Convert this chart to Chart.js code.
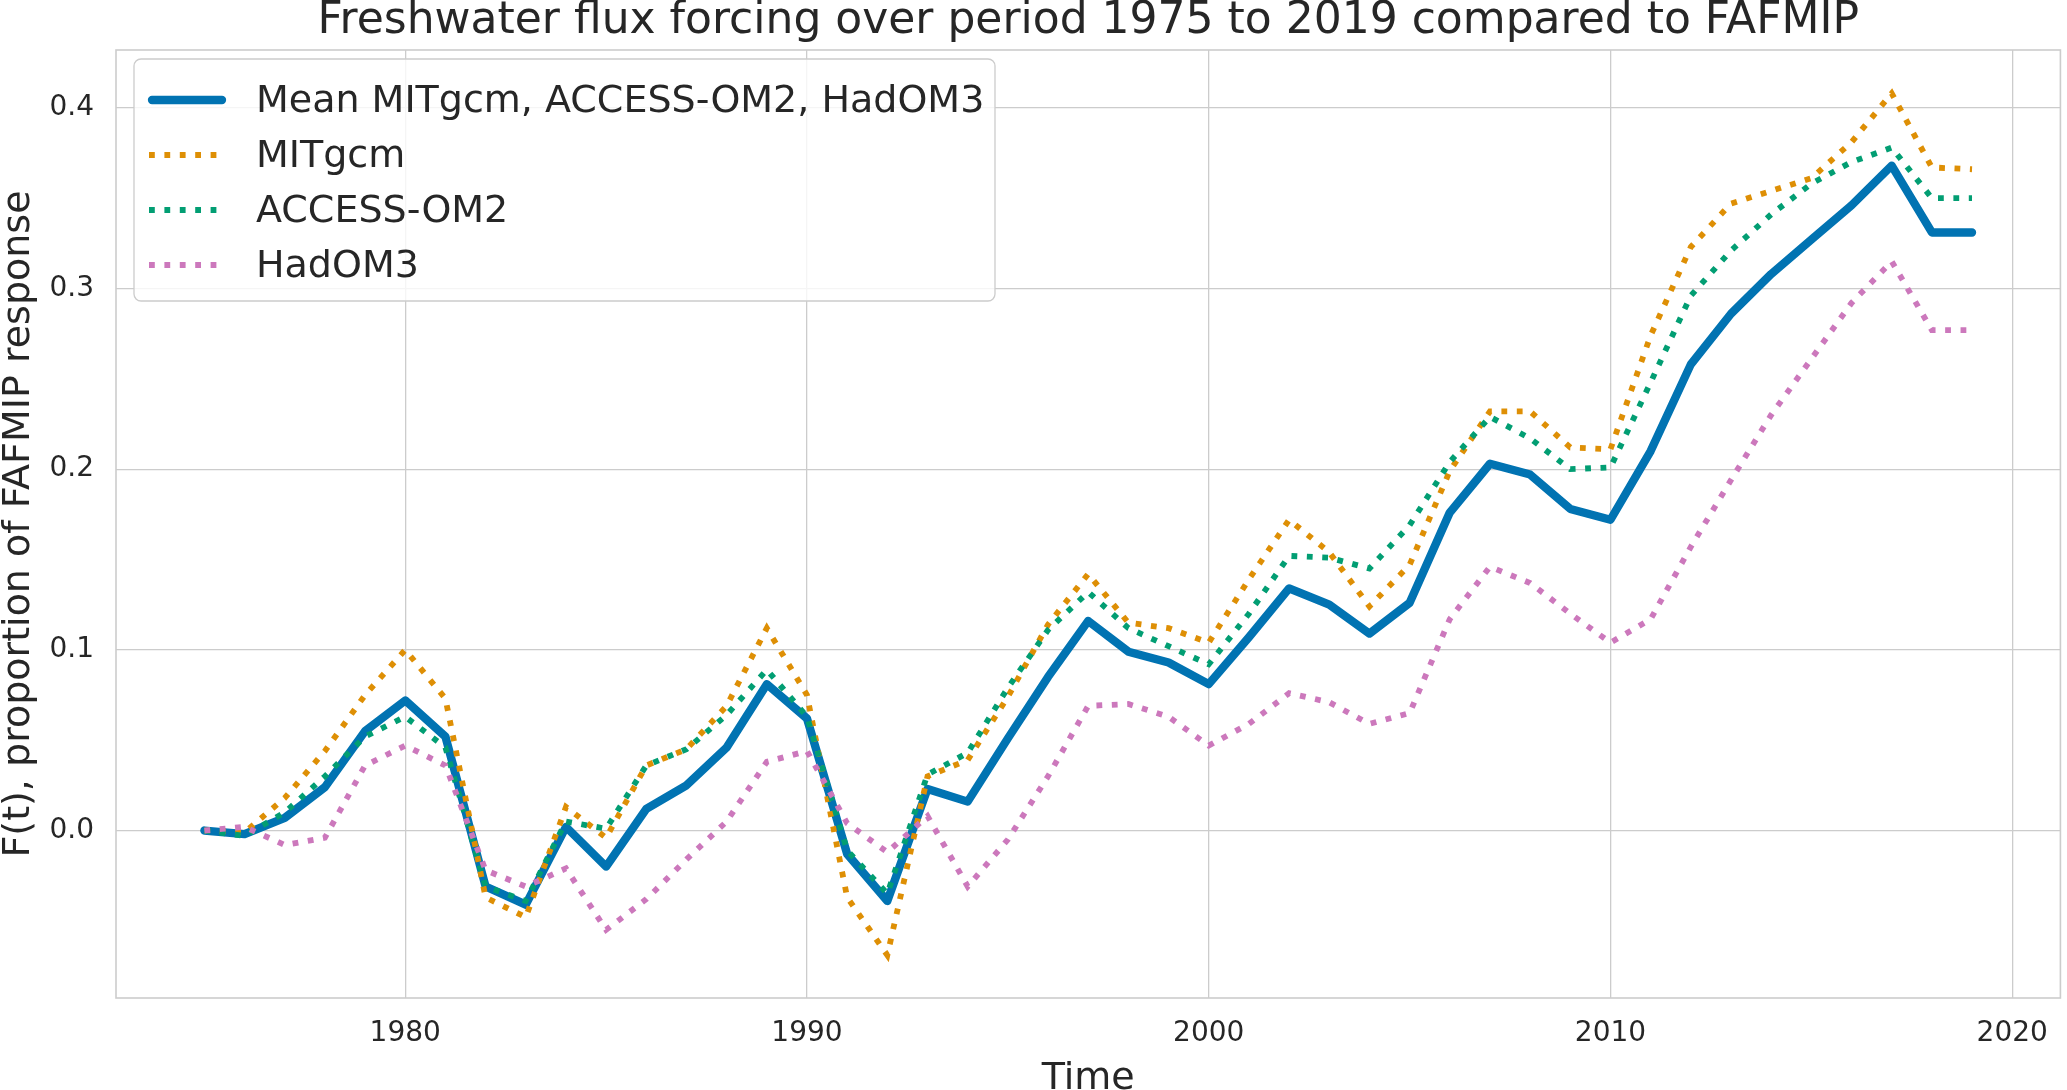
<!DOCTYPE html>
<html lang="en">
<head>
    <meta charset="UTF-8">
    <title>Freshwater flux forcing</title>
    <script src="https://cdn.jsdelivr.net/npm/chart.js"></script>
    <style>
        body {
            margin: 0;
            background-color: #ffffff;
        }
        canvas {
            display: block;
        }
    </style>
</head>
<body>
    <canvas id="fluxChart" width="2067" height="1090"></canvas>

    <script>
        const years = [1975, 1976, 1977, 1978, 1979, 1980, 1981, 1982, 1983, 1984,
                       1985, 1986, 1987, 1988, 1989, 1990, 1991, 1992, 1993, 1994,
                       1995, 1996, 1997, 1998, 1999, 2000, 2001, 2002, 2003, 2004,
                       2005, 2006, 2007, 2008, 2009, 2010, 2011, 2012, 2013, 2014,
                       2015, 2016, 2017, 2018, 2019];

        const meanVals = [0.000, -0.002, 0.007, 0.024, 0.055, 0.072, 0.052, -0.031, -0.041, 0.002,
                          -0.020, 0.012, 0.025, 0.046, 0.081, 0.062, -0.013, -0.039, 0.023, 0.016,
                          0.051, 0.085, 0.116, 0.099, 0.093, 0.081, 0.107, 0.134, 0.125, 0.109,
                          0.126, 0.176, 0.203, 0.197, 0.178, 0.172, 0.210, 0.258, 0.286, 0.308,
                          0.327, 0.346, 0.368, 0.331, 0.331];

        const mitgcmVals = [0.000, -0.001, 0.018, 0.044, 0.075, 0.100, 0.073, -0.037, -0.048, 0.013,
                            -0.004, 0.036, 0.045, 0.069, 0.112, 0.075, -0.037, -0.069, 0.030, 0.039,
                            0.074, 0.114, 0.142, 0.115, 0.112, 0.104, 0.139, 0.172, 0.154, 0.124,
                            0.147, 0.199, 0.232, 0.232, 0.212, 0.211, 0.274, 0.323, 0.347, 0.354,
                            0.361, 0.381, 0.408, 0.367, 0.366];

        const accessVals = [0.000, -0.003, 0.010, 0.030, 0.052, 0.063, 0.046, -0.031, -0.039, 0.005,
                            0.001, 0.036, 0.045, 0.064, 0.089, 0.063, -0.011, -0.035, 0.031, 0.043,
                            0.079, 0.111, 0.132, 0.112, 0.102, 0.092, 0.120, 0.152, 0.151, 0.145,
                            0.169, 0.204, 0.229, 0.217, 0.200, 0.201, 0.248, 0.296, 0.321, 0.341,
                            0.358, 0.370, 0.378, 0.350, 0.350];

        const hadVals = [0.000, 0.002, -0.008, -0.004, 0.036, 0.047, 0.036, -0.022, -0.031, -0.021,
                         -0.055, -0.038, -0.016, 0.005, 0.038, 0.044, 0.004, -0.012, 0.008, -0.031,
                         -0.005, 0.030, 0.069, 0.070, 0.063, 0.047, 0.059, 0.076, 0.071, 0.059,
                         0.065, 0.117, 0.146, 0.137, 0.120, 0.104, 0.117, 0.157, 0.194, 0.230,
                         0.261, 0.292, 0.315, 0.277, 0.277];

        const seriesNames = ['Mean MITgcm, ACCESS-OM2, HadOM3', 'MITgcm', 'ACCESS-OM2', 'HadOM3'];
        const xTicks = [1980, 1990, 2000, 2010, 2020];
        const yTicks = [0.0, 0.1, 0.2, 0.3, 0.4];

        const textColor = '#262626';
        const gridColor = '#cccccc';

        function points(vals) {
            return years.map((yr, i) => ({x: yr, y: vals[i]}));
        }

        // matplotlib-style legend with a rounded frame
        const boxLegend = {
            id: 'boxLegend',
            afterDatasetsDraw(chart) {
                const ctx = chart.ctx;
                const left = 134, top = 59, w = 861, h = 242;
                ctx.save();
                ctx.beginPath();
                ctx.roundRect(left, top, w, h, 7);
                ctx.fillStyle = 'rgba(255,255,255,0.8)';
                ctx.fill();
                ctx.lineWidth = 1.3;
                ctx.strokeStyle = gridColor;
                ctx.stroke();

                ctx.font = '38px "DejaVu Sans"';
                ctx.textBaseline = 'middle';
                ctx.textAlign = 'left';
                chart.data.datasets.forEach((ds, i) => {
                    const cy = 100 + i * 55;
                    ctx.beginPath();
                    ctx.setLineDash(ds.borderDash || []);
                    ctx.lineWidth = ds.borderWidth;
                    ctx.lineCap = ds.borderCapStyle;
                    ctx.strokeStyle = ds.borderColor;
                    ctx.moveTo(ds.borderDash ? 149 : 152, cy);
                    ctx.lineTo(ds.borderDash ? 224 : 222, cy);
                    ctx.stroke();
                    ctx.setLineDash([]);
                    ctx.fillStyle = textColor;
                    ctx.fillText(ds.label, 256, cy + 2);
                });
                ctx.restore();
            }
        };

        // frame round the plot area (all four spines)
        const frame = {
            id: 'frame',
            beforeDatasetsDraw(chart) {
                const a = chart.chartArea;
                const ctx = chart.ctx;
                ctx.save();
                ctx.lineWidth = 1.6;
                ctx.strokeStyle = gridColor;
                ctx.strokeRect(a.left, a.top, a.right - a.left, a.bottom - a.top);
                ctx.restore();
            }
        };

        const bg = {
            id: 'bg',
            beforeDraw(chart) {
                const ctx = chart.ctx;
                ctx.save();
                ctx.fillStyle = '#ffffff';
                ctx.fillRect(0, 0, chart.width, chart.height);
                ctx.restore();
            }
        };

        const dotted = [5.8, 9.6];

        const ctx = document.getElementById('fluxChart').getContext('2d');
        new Chart(ctx, {
            type: 'line',
            data: {
                datasets: [
                    {
                        label: seriesNames[0],
                        data: points(meanVals),
                        borderColor: '#0173B2',
                        borderWidth: 8.3,
                        borderCapStyle: 'round',
                        borderJoinStyle: 'round',
                        order: 4
                    },
                    {
                        label: seriesNames[1],
                        data: points(mitgcmVals),
                        borderColor: '#DE8F05',
                        borderWidth: 5.8,
                        borderDash: dotted,
                        borderCapStyle: 'butt',
                        order: 3
                    },
                    {
                        label: seriesNames[2],
                        data: points(accessVals),
                        borderColor: '#029E73',
                        borderWidth: 5.8,
                        borderDash: dotted,
                        borderCapStyle: 'butt',
                        order: 2
                    },
                    {
                        label: seriesNames[3],
                        data: points(hadVals),
                        borderColor: '#CC78BC',
                        borderWidth: 5.8,
                        borderDash: dotted,
                        borderCapStyle: 'butt',
                        order: 1
                    }
                ]
            },
            options: {
                responsive: false,
                animation: false,
                devicePixelRatio: 1,
                elements: {
                    point: { radius: 0 },
                    line: { tension: 0, fill: false }
                },
                layout: { padding: { left: 0, right: 4, top: 0, bottom: 0 } },
                plugins: {
                    legend: { display: false },
                    tooltip: { enabled: false },
                    title: {
                        display: true,
                        fullSize: false,
                        text: 'Freshwater flux forcing over period 1975 to 2019 compared to FAFMIP',
                        color: textColor,
                        font: { family: 'DejaVu Sans', size: 44, weight: 'normal', lineHeight: 1 },
                        padding: { top: 0, bottom: 6 }
                    }
                },
                scales: {
                    x: {
                        type: 'linear',
                        min: 1972.8,
                        max: 2021.2,
                        afterBuildTicks(scale) {
                            scale.ticks = xTicks.map(v => ({value: v}));
                        },
                        afterFit(scale) { scale.height = 92; },
                        grid: { color: gridColor, lineWidth: 1.3, drawTicks: false },
                        border: { display: false },
                        ticks: {
                            color: textColor,
                            padding: 19,
                            maxRotation: 0,
                            font: { family: 'DejaVu Sans', size: 28 },
                            callback: v => String(v)
                        },
                        title: {
                            display: true,
                            text: 'Time',
                            color: textColor,
                            font: { family: 'DejaVu Sans', size: 38, lineHeight: 1 },
                            padding: { top: 0, bottom: -8 }
                        }
                    },
                    y: {
                        type: 'linear',
                        min: -0.0927,
                        max: 0.432,
                        afterBuildTicks(scale) {
                            scale.ticks = yTicks.map(v => ({value: v}));
                        },
                        afterFit(scale) { scale.width = 116; },
                        grid: { color: gridColor, lineWidth: 1.3, drawTicks: false },
                        border: { display: false },
                        ticks: {
                            color: textColor,
                            padding: 22,
                            font: { family: 'DejaVu Sans', size: 28 },
                            callback: v => v.toFixed(1)
                        },
                        title: {
                            display: true,
                            text: 'F(t), proportion of FAFMIP response',
                            color: textColor,
                            font: { family: 'DejaVu Sans', size: 38, lineHeight: 1 },
                            padding: { top: 0, bottom: 0 }
                        }
                    }
                }
            },
            plugins: [bg, frame, boxLegend]
        });
    </script>
</body>
</html>
